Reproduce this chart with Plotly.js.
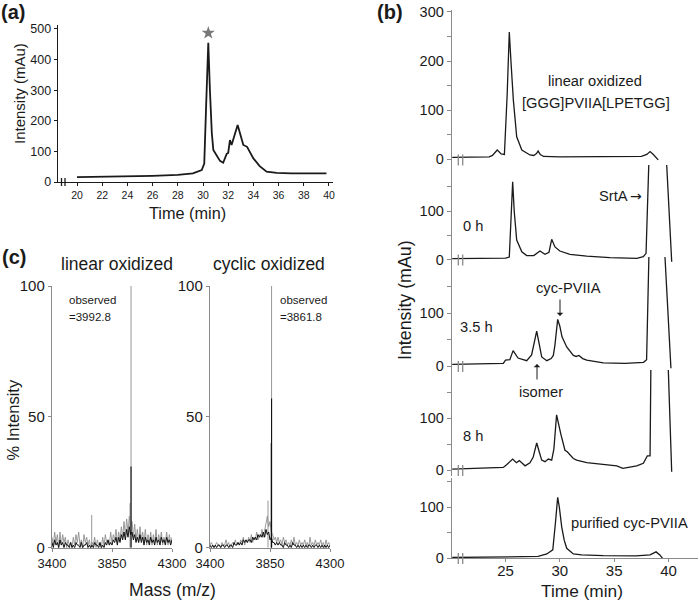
<!DOCTYPE html>
<html><head><meta charset="utf-8">
<script src="https://cdn.plot.ly/plotly-3.0.1.min.js"></script>
<style>html,body{margin:0;padding:0;background:#fff}#chart{width:700px;height:602px}</style>
</head><body><div id="chart"></div>
<script>
// ---------- DATA ----------
// (a) HPLC trace
const aTime = [20, 22, 24, 26, 28, 29.2, 29.9, 30.1, 30.25, 30.42, 30.55, 30.7, 30.82, 31.1, 31.35, 31.6, 31.88, 32.0, 32.14, 32.27, 32.54, 32.75, 33.0, 33.2, 33.5, 34.0, 34.5, 35.05, 35.85, 37, 38.5, 39.8];
const aInt  = [16, 17, 18, 20, 23, 28, 39, 60, 250, 455, 300, 160, 105, 85, 69, 63, 92, 95, 137, 121, 160, 186, 150, 121, 115, 77, 52, 34, 30, 28, 28, 28];
const aStarTime = [30.42];
const aStarInt = [487];

// (b) HPLC traces, time (min) / intensity (mAu)
const bLinearTime = [20.1, 22, 23.5, 23.8, 24.24, 24.6, 24.9, 25.15, 25.35, 25.5, 25.72, 26.03, 26.5, 27.25, 27.6, 27.85, 28.0, 28.2, 28.5, 30, 33, 36, 37.5, 38.0, 38.3, 38.6, 38.9, 39.05];
const bLinearInt  = [4, 4, 5, 8, 19, 11, 10, 130, 259, 200, 121, 46, 19, 9, 8, 12, 17, 10, 6, 5, 5, 5, 6, 10, 16, 10, 2, -1];

const b0hTime = [20.1, 22, 24, 25.0, 25.35, 25.5, 25.66, 25.8, 26.03, 26.5, 26.95, 27.6, 28.17, 28.63, 29.0, 29.25, 29.55, 30.0, 30.93, 32.47, 34.6, 37.07, 37.68, 37.93, 38.27, 39.68, 40.29];
const b0hInt  = [2, 2, 3, 3, 5, 90, 160, 100, 40, 16, 8, 8, 17.5, 10.7, 15, 41.6, 26, 17.5, 10.7, 7, 3.7, 2.3, 5.8, 12.8, 260, 260, -4.5];

const b35hTime = [20.1, 23, 24.8, 25.0, 25.4, 25.7, 25.95, 26.15, 26.95, 27.4, 27.87, 28.1, 28.33, 28.8, 29.2, 29.4, 29.55, 29.8, 30.0, 30.2, 30.63, 31.24, 31.5, 31.76, 32.1, 32.47, 34, 36, 37.7, 37.98, 38.25, 39.53, 40.22];
const b35hInt  = [3, 4, 5, 11, 12, 29, 20, 15, 10, 21, 66, 40, 17, 10, 14, 20, 40, 88, 75, 55, 36, 20, 18, 20, 14, 11, 6, 5, 7, 12, 260, 260, -4.4];

const b8hTime = [20.1, 23, 24.8, 25.1, 25.66, 26.0, 26.27, 26.8, 27.25, 27.55, 27.87, 28.1, 28.33, 28.63, 28.94, 29.25, 29.45, 29.7, 29.9, 30.08, 30.47, 30.68, 31.24, 31.55, 32.47, 34, 35.23, 35.8, 37.07, 37.68, 38.05, 38.3, 38.4, 39.87, 40.29];
const b8hInt  = [1.5, 3, 5, 10, 21, 14, 18, 8, 14, 25, 52, 35, 19, 16, 21, 19, 40, 106, 90, 70, 38, 35, 22, 19, 14, 10, 8, 3, 8, 13, 27, 27, 260, 260, -3.3];

const bPurTime = [20.1, 25, 28.0, 28.8, 29.35, 29.6, 29.8, 29.95, 30.17, 30.4, 30.63, 31.24, 32, 34.0, 37, 38.3, 38.6, 38.85, 39.2, 39.5];
const bPurInt  = [1, 1.5, 3, 8, 16, 70, 119, 100, 61, 35, 19, 8, 6, 4.5, 4, 6, 10, 12, 6, -2];

const bTickVals = [25, 30, 35, 40];

// (c) MALDI spectra: noise profile sampled from m/z 3400 every 10 m/z, % intensity
const cMzStart = 3400, cMzStep = 10;
const cLinearUpper = [4,1,6,2,5,0,6,1,5,2, 4,0,3,1,2,0,4,1,5,2, 6,1,3,0,5,2,4,1,3,0, 2,1,4,0,3,1,2,0,4,1, 5,2,3,1,6,2,5,3,7,2, 6,3,8,4,10,5,11,6,12,8, 10,4,9,3,7,2,8,3,6,2, 7,1,5,2,6,1,5,2,7,1, 5,2,6,1,4,2,6,1,5,2,4];
const cLinearLower = [2,0,3,1,2,0,3,1,2,0, 2,1,1,0,2,0,1,0,2,1, 1,0,2,0,1,1,2,0,1,0, 1,0,2,1,1,0,2,0,1,0, 2,1,3,1,2,1,3,2,4,1, 4,2,5,3,6,3,7,4,8,5, 6,3,5,2,4,2,5,2,4,1, 4,2,3,1,4,2,3,1,4,2, 3,1,4,2,3,1,4,2,3,1,3];
const cLinearPeakMz = [3698, 3985, 3992.8];
const cLinearPeakUpper = [12.5, 17, 100];
const cLinearPeakLowerMz = [3992.8];
const cLinearPeakLower = [31];

const cCyclicUpper = [1,2,1,0,1,2,1,1,0,2, 1,1,3,1,2,0,1,2,1,3, 1,2,1,3,2,4,1,3,2,4, 2,5,2,4,3,6,3,5,4,7, 4,7,9,12,8,10,6,5,3,4, 2,4,2,3,1,4,2,3,1,2, 1,3,1,4,1,2,1,3,1,2, 1,3,1,2,0,4,1,2,1,3, 1,2,1,3,1,2,0,3,1,2,1];
const cCyclicLower = [1,0,1,0,1,0,1,1,0,1, 1,0,1,1,0,1,1,0,2,1, 1,2,1,2,1,3,2,3,2,3, 3,2,4,3,4,3,5,4,5,4, 6,4,7,5,6,3,4,2,2,1, 2,1,2,1,1,0,2,1,1,0, 1,0,2,1,1,0,1,0,1,0, 1,0,1,0,1,1,0,1,0,1, 1,0,1,0,1,0,1,0,1,0,1];
const cCyclicPeakMz = [3835, 3861.8];
const cCyclicPeakUpper = [18, 100];
const cCyclicPeakLowerMz = [3859.5, 3861.8];
const cCyclicPeakLower = [40, 57];
const cTickVals = [3400, 3850, 4300];

// ---------- LAYOUT HELPERS ----------
const W = 700, H = 602;
const FONT = 'Liberation Sans, Arial, Helvetica, sans-serif';
const ARROWFONT = 'DejaVu Sans, Liberation Sans, sans-serif';
const px = x => x / W, py = y => 1 - y / H;
const INK = '#1a1a1a', GRAY = '#8a8a8a';

function sticks(mz, h) {
  const x = [], y = [];
  mz.forEach((m, i) => { x.push(m, m, null); y.push(0, h[i], null); });
  return {x, y};
}

const traces = [];
const layout = {
  width: W, height: H, margin: {l: 0, r: 0, t: 0, b: 0},
  paper_bgcolor: '#fff', plot_bgcolor: 'rgba(0,0,0,0)',
  showlegend: false, font: {family: FONT, color: INK},
  annotations: [], shapes: []
};

// ----- panel (a) -----
traces.push({x: aTime, y: aInt, xaxis: 'x', yaxis: 'y', mode: 'lines', line: {color: INK, width: 1.8}});
traces.push({x: aStarTime, y: aStarInt, xaxis: 'x', yaxis: 'y', mode: 'markers', marker: {symbol: 'star', size: 10, color: '#777'}});
layout.xaxis = {domain: [px(58), px(333)], range: [18.49, 40.32], anchor: 'y', showline: true, linecolor: INK, linewidth: 1.4,
  ticks: 'outside', ticklen: 3, tickcolor: INK, tick0: 20, dtick: 2, showgrid: false, zeroline: false, tickfont: {size: 10.5, color: INK}};
layout.yaxis = {domain: [py(182), py(25)], range: [0, 513], anchor: 'x', showline: true, linecolor: INK, linewidth: 1.4,
  ticks: 'outside', ticklen: 3, tickcolor: INK, dtick: 100, showgrid: false, zeroline: false, tickfont: {size: 12.5, color: INK}};
[61.5, 65].forEach(xp => layout.shapes.push({type: 'line', xref: 'paper', yref: 'paper', x0: px(xp), x1: px(xp), y0: py(178), y1: py(186), line: {color: INK, width: 1.3}}));

// ----- panel (b) -----
const bTime0 = 25 - (505.5 - 452) / 10.87, bTime1 = 25 + (698 - 505.5) / 10.87;
layout.xaxis2 = {domain: [px(452), px(698)], range: [bTime0, bTime1], anchor: 'y6', showline: true, linecolor: GRAY, linewidth: 1.3,
  ticks: 'outside', ticklen: 3, tickcolor: GRAY, tickvals: bTickVals, showgrid: false, zeroline: false, tickfont: {size: 15, color: INK},
  ticklabelstandoff: -4};
const bPanels = [
  {t: bLinearTime, v: bLinearInt, top: 10, bottom: 165, zero: 159.4, ppu: 0.492, tv: [0, 50, 100, 150, 200, 250, 300]},
  {t: b0hTime, v: b0hInt, top: 165, bottom: 264, zero: 259.5, ppu: 0.485, tv: [0, 50, 100, 150]},
  {t: b35hTime, v: b35hInt, top: 257, bottom: 372, zero: 366, ppu: 0.53, tv: [0, 50, 100, 150]},
  {t: b8hTime, v: b8hInt, top: 370, bottom: 476, zero: 470, ppu: 0.52, tv: [0, 50, 100, 150]},
  {t: bPurTime, v: bPurInt, top: 478, bottom: 558, zero: 558, ppu: 0.51, tv: [0, 50, 100, 150]}
];
bPanels.forEach((p, k) => {
  const n = k + 2, ya = 'y' + n;
  traces.push({x: p.t, y: p.v, xaxis: 'x2', yaxis: ya, mode: 'lines', line: {color: INK, width: 1.3}});
  layout['yaxis' + n] = {domain: [py(p.bottom), py(p.top)], range: [(p.zero - p.bottom) / p.ppu, (p.zero - p.top) / p.ppu],
    anchor: 'x2', showline: true, linecolor: GRAY, linewidth: 1.3, ticks: 'outside', ticklen: 4, tickcolor: GRAY,
    tickvals: p.tv, ticktext: p.tv.map(v => v % 100 === 0 ? String(v) : ''), showgrid: false, zeroline: false,
    tickfont: {size: 14.5, color: INK}};
  [458.3, 462.7].forEach(xp => layout.shapes.push({type: 'line', xref: 'paper', yref: 'paper', x0: px(xp), x1: px(xp),
    y0: py(p.zero - 5), y1: py(p.zero + 6), line: {color: GRAY, width: 1.3}}));
});

// ----- panel (c) -----
function spectrum(xa, ya, upper, lower, pkMz, pkUp, pkLoMz, pkLo) {
  traces.push({y: upper, x0: cMzStart, dx: cMzStep, xaxis: xa, yaxis: ya, mode: 'lines', line: {color: '#8f8f8f', width: 0.9}});
  const su = sticks(pkMz, pkUp);
  traces.push({x: su.x, y: su.y, xaxis: xa, yaxis: ya, mode: 'lines', line: {color: '#8a8a8a', width: 0.9}});
  traces.push({y: lower, x0: cMzStart, dx: cMzStep, xaxis: xa, yaxis: ya, mode: 'lines', line: {color: '#111', width: 1.0}});
  const sl = sticks(pkLoMz, pkLo);
  traces.push({x: sl.x, y: sl.y, xaxis: xa, yaxis: ya, mode: 'lines', line: {color: '#111', width: 1.1}});
}
spectrum('x3', 'y7', cLinearUpper, cLinearLower, cLinearPeakMz, cLinearPeakUpper, cLinearPeakLowerMz, cLinearPeakLower);
spectrum('x4', 'y8', cCyclicUpper, cCyclicLower, cCyclicPeakMz, cCyclicPeakUpper, cCyclicPeakLowerMz, cCyclicPeakLower);
const cX = (d, anchor) => ({domain: d, range: [3400, 4300], anchor: anchor, showline: true, linecolor: GRAY, linewidth: 1.2,
  ticks: 'outside', ticklen: 3, tickcolor: GRAY, tickvals: cTickVals, showgrid: false, zeroline: false, tickfont: {size: 13, color: INK}});
const cY = (anchor) => ({domain: [py(547.7), py(286)], range: [0, 100], anchor: anchor, showline: true, linecolor: GRAY, linewidth: 1.2,
  ticks: 'outside', ticklen: 3, tickcolor: GRAY, tickvals: [0, 50, 100], showgrid: false, zeroline: false, tickfont: {size: 15, color: INK}});
layout.xaxis3 = cX([px(52), px(172)], 'y7');
layout.yaxis7 = cY('x3');
layout.xaxis4 = cX([px(210), px(330)], 'y8');
layout.yaxis8 = cY('x4');

// ----- text -----
function txt(text, x, y, size, opts, family) {
  layout.annotations.push(Object.assign({text: text, xref: 'paper', yref: 'paper', x: px(x), y: py(y), xanchor: 'center', yanchor: 'middle',
    showarrow: false, font: {family: family || FONT, size: size, color: INK}}, opts || {}));
}
function arrow(xh, yh, xt, yt) {
  layout.annotations.push({text: '', xref: 'paper', yref: 'paper', x: px(xh), y: py(yh), ax: xt - xh, ay: yt - yh,
    showarrow: true, arrowhead: 1, arrowsize: 1.1, arrowwidth: 1, arrowcolor: INK, standoff: 0, startstandoff: 0});
}
txt('<b>(a)</b>', 13, 12, 20);
txt('<b>(b)</b>', 390, 12, 20);
txt('<b>(c)</b>', 14, 257, 20);
txt('Intensity (mAu)', 19, 94, 15, {textangle: -90});
txt('Time (min)', 187, 213, 16.3);
txt('Intensity (mAu)', 405, 300, 17.8, {textangle: -90});
txt('Time (min)', 582, 591, 17.3);
txt('% Intensity', 12.5, 420, 16.5, {textangle: -90});
txt('Mass (m/z)', 172, 590, 17.6);
txt('linear oxidized', 117.5, 264, 17.5);
txt('cyclic oxidized', 269, 264, 17.5);
txt('observed', 67, 300, 11.5, {xanchor: 'left'});
txt('=3992.8', 67, 317, 11.5, {xanchor: 'left'});
txt('observed', 278, 300, 11.5, {xanchor: 'left'});
txt('=3861.8', 278, 317, 11.5, {xanchor: 'left'});
txt('linear oxidized', 595, 81, 14.7);
txt('[GGG]PVIIA[LPETGG]', 596, 103, 14.7);
txt('SrtA', 613, 196, 14.7);
txt('\u2192', 636, 196, 14, {}, ARROWFONT);
txt('0 h', 473, 226, 14.7);
txt('3.5 h', 477, 327, 14.7);
txt('cyc-PVIIA', 568, 288, 14.7);
arrow(560, 316, 560, 298);
arrow(537, 364, 537, 381);
txt('isomer', 541, 392, 14.7);
txt('8 h', 473, 436, 14.7);
txt('purified cyc-PVIIA', 629, 523, 14.7);

Plotly.newPlot('chart', traces, layout, {staticPlot: true, displayModeBar: false});
</script></body></html>
